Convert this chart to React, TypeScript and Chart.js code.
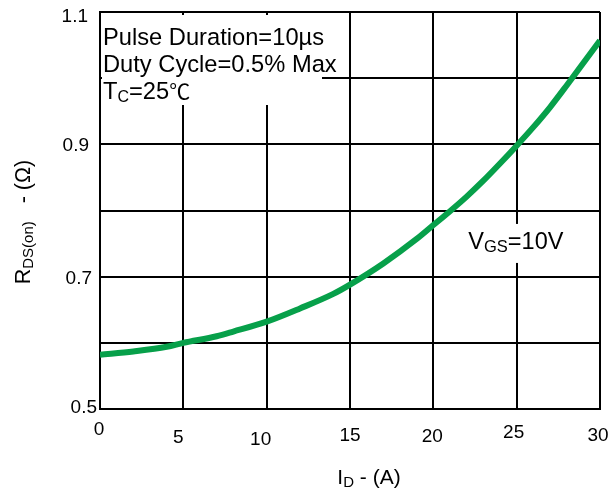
import React, { useEffect, useRef } from "react";
import { Chart, registerables } from "chart.js";

Chart.register(...registerables);

// Drain current I_D (A)
const currentA = [0, 2, 4, 5, 7, 8, 10, 12, 14, 15, 17, 19, 20, 21, 22, 23, 24, 25, 26, 27, 28, 29, 30];
// On resistance R_DS(on) (Ω)
const rdsOn = [0.582, 0.587, 0.594, 0.6, 0.61, 0.617, 0.632, 0.652, 0.674, 0.688, 0.72, 0.757, 0.778, 0.799, 0.821, 0.845, 0.871, 0.898, 0.926, 0.956, 0.989, 1.023, 1.057];
const xTickValues = [0, 5, 10, 15, 20, 25, 30];
const yTickValues = [0.5, 0.7, 0.9, 1.1];
const yTickLabels = ["0.5", "0.7", "0.9", "1.1"];
const noteLines = ["Pulse Duration=10µs", "Duty Cycle=0.5% Max"];

const FONT = "'Liberation Sans', Arial, 'Noto Sans CJK SC', sans-serif";

type Run = { t: string; size: number; dy?: number };

function runsWidth(ctx: CanvasRenderingContext2D, runs: Run[]) {
  let w = 0;
  for (const r of runs) {
    ctx.font = `${r.size}px ${FONT}`;
    w += ctx.measureText(r.t).width;
  }
  return w;
}

function drawRuns(ctx: CanvasRenderingContext2D, runs: Run[], x: number, y: number) {
  let cx = x;
  ctx.textAlign = "left";
  ctx.textBaseline = "alphabetic";
  for (const r of runs) {
    ctx.font = `${r.size}px ${FONT}`;
    ctx.fillText(r.t, cx, y + (r.dy || 0));
    cx += ctx.measureText(r.t).width;
  }
}

const annotPlugin = {
  id: "annot",
  afterDraw(chart: any) {
    const ctx: CanvasRenderingContext2D = chart.ctx;
    const xs = chart.scales.x;
    const ys = chart.scales.y;
    const area = chart.chartArea;
    ctx.save();
    ctx.fillStyle = "#000";

    // x tick labels (slightly staggered as in the original)
    const xdx = [-1, -5, -6, 0, -1, -3, -2];
    const xdy = [26, 34, 36, 32, 33, 29, 32];
    ctx.font = `19px ${FONT}`;
    ctx.textAlign = "center";
    ctx.textBaseline = "alphabetic";
    xTickValues.forEach((v, i) => {
      ctx.fillText(String(v), xs.getPixelForValue(v) + xdx[i], area.bottom + xdy[i]);
    });

    // y tick labels
    const yRight = [97, 92, 89, 88];
    const ydy = [4, 7, 7, 10];
    ctx.textAlign = "right";
    yTickValues.forEach((v, i) => {
      ctx.fillText(yTickLabels[i], yRight[i], ys.getPixelForValue(v) + ydy[i]);
    });

    // Note box (top-left)
    ctx.fillStyle = "#fff";
    ctx.fillRect(area.left + 2, area.top + 3, 220, 90);
    ctx.fillStyle = "#000";
    ctx.font = `23.7px ${FONT}`;
    ctx.textAlign = "left";
    ctx.fillText(noteLines[0], area.left + 3, 45);
    ctx.fillText(noteLines[1], area.left + 3, 72);
    drawRuns(ctx, [
      { t: "T", size: 23.7 },
      { t: "C", size: 16, dy: 3 },
      { t: "=25", size: 23.7 },
      { t: "℃", size: 21 },
    ], area.left + 3, 99);

    // VGS label
    const vx = xs.getPixelForValue(22.1);
    const vy = ys.getPixelForValue(0.754);
    ctx.fillStyle = "#fff";
    ctx.fillRect(vx - 2, vy - 17, 100, 39);
    ctx.fillStyle = "#000";
    drawRuns(ctx, [
      { t: "V", size: 23.5 },
      { t: "GS", size: 16.5, dy: 3 },
      { t: "=10V", size: 23.5 },
    ], vx, vy + 8);

    // x axis title
    const xr: Run[] = [
      { t: "I", size: 21 },
      { t: "D", size: 15, dy: 3 },
      { t: " - (A)", size: 21 },
    ];
    const xw = runsWidth(ctx, xr);
    drawRuns(ctx, xr, 369 - xw / 2, 484);

    // y axis title
    const yr: Run[] = [
      { t: "R", size: 21.5 },
      { t: "DS(on)", size: 15, dy: 3 },
      { t: "   - (Ω)", size: 21.5 },
    ];
    const yw = runsWidth(ctx, yr);
    ctx.translate(30, 222);
    ctx.rotate(-Math.PI / 2);
    drawRuns(ctx, yr, -yw / 2, 0);

    ctx.restore();
  },
};

export default function App() {
  const canvasRef = useRef<HTMLCanvasElement | null>(null);

  useEffect(() => {
    if (!canvasRef.current) return;
    const chart = new Chart(canvasRef.current, {
      type: "line",
      data: {
        datasets: [
          {
            data: currentA.map((x, i) => ({ x, y: rdsOn[i] })),
            borderColor: "#07a04a",
            borderWidth: 6,
            pointRadius: 0,
            cubicInterpolationMode: "monotone",
            fill: false,
          },
        ],
      },
      options: {
        animation: false,
        responsive: true,
        maintainAspectRatio: false,
        layout: { padding: { left: 100, right: 12, top: 12, bottom: 79 } },
        plugins: { legend: { display: false }, tooltip: { enabled: false } },
        scales: {
          x: {
            type: "linear",
            min: 0,
            max: 30,
            ticks: { display: false, stepSize: 5 },
            grid: { color: "#000", lineWidth: 2, drawTicks: false },
            border: { color: "#000", width: 2 },
            afterFit: (s: any) => { s.height = 0; },
          },
          y: {
            type: "linear",
            min: 0.5,
            max: 1.1,
            ticks: { display: false, stepSize: 0.1 },
            grid: { color: "#000", lineWidth: 2, drawTicks: false },
            border: { color: "#000", width: 2 },
            afterFit: (s: any) => { s.width = 0; },
          },
        },
      } as any,
      plugins: [annotPlugin],
    });
    return () => chart.destroy();
  }, []);

  return (
    <div style={{ position: "fixed", left: 0, top: 0, width: 612, height: 488, background: "#fff" }}>
      <canvas ref={canvasRef} />
    </div>
  );
}
